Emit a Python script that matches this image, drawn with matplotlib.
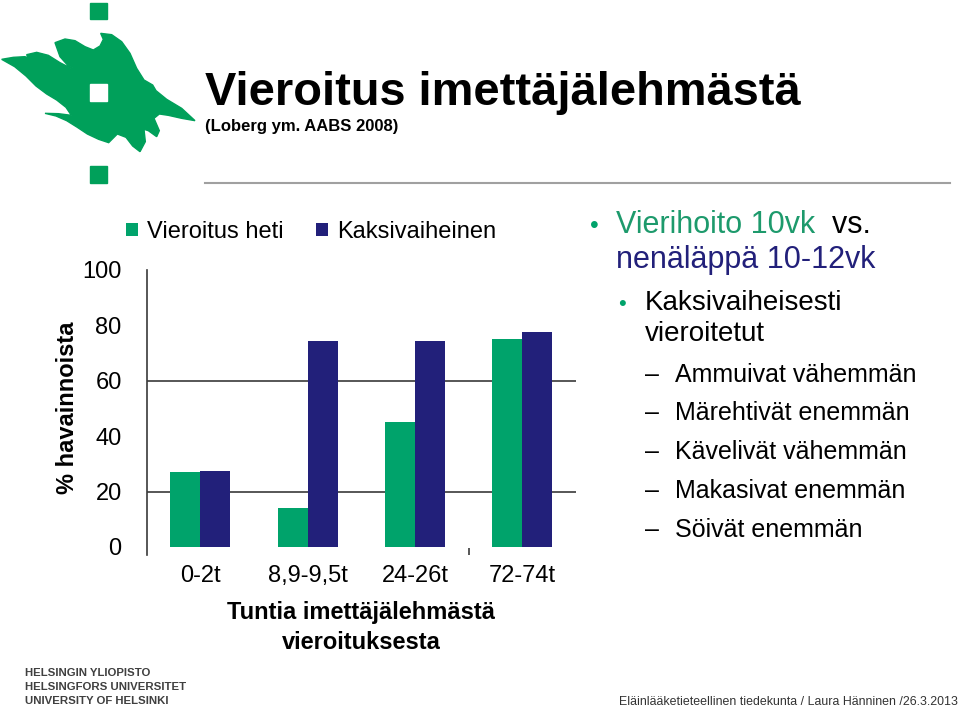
import numpy as np
import matplotlib
matplotlib.use('Agg')
import matplotlib.pyplot as plt
from matplotlib.patches import Polygon, Rectangle

plt.rcParams['font.family'] = ['Liberation Sans', 'DejaVu Sans']

# data
categories = ['0-2t', '8,9-9,5t', '24-26t', '72-74t']
vieroitus_heti = [27, 14, 45, 75]
kaksivaiheinen = [27.5, 74.5, 74.5, 77.5]
series_names = ['Vieroitus heti', 'Kaksivaiheinen']
yticks = [0, 20, 40, 60, 80, 100]
grid_at = [20, 60]

green = '#00A36B'
navy = '#22207A'
dark = '#3a3a3a'

fig = plt.figure(figsize=(9.6, 7.08), dpi=100)

# chart
ax = fig.add_axes([146.7/960, 1-555.3/708, 429.3/960, 285.3/708])
x = np.arange(len(categories))
w = 0.28
b1 = ax.bar(x - w/2, vieroitus_heti, w, color=green, zorder=3)
b2 = ax.bar(x + w/2, kaksivaiheinen, w, color=navy, zorder=3)
for g in grid_at:
    ax.axhline(g, color=dark, lw=1.2, zorder=1)
ax.set_xlim(-0.5, 3.5)
ax.set_ylim(-3, 100)
ax.set_yticks(yticks)
ax.set_yticklabels([str(t) for t in yticks], fontsize=17)
ax.set_xticks(x)
ax.set_xticklabels(categories, fontsize=17)
ax.set_xticks([2.5], minor=True)
ax.tick_params(axis='y', length=0, pad=18)
ax.tick_params(axis='x', which='major', length=0, pad=7)
ax.tick_params(axis='x', which='minor', length=5, direction='in', color=dark, width=1.2)
for s in ['top', 'right', 'bottom']:
    ax.spines[s].set_visible(False)
ax.spines['left'].set_color(dark)
ax.spines['left'].set_linewidth(1.2)
ax.set_facecolor('none')

ax.set_ylabel('% havainnoista', fontsize=17, fontweight='bold')
ax.yaxis.set_label_coords(-0.158, 0.516)
ax.set_xlabel('Tuntia imettäjälehmästä\nvieroituksesta', fontsize=17,
              fontweight='bold', linespacing=1.4)
ax.xaxis.set_label_coords(0.499, -0.16)

fig.legend([b1, b2], series_names, loc='center left',
           bbox_to_anchor=(126/960, 1-232/708), ncol=2, frameon=False,
           fontsize=17, handlelength=0.5, handleheight=0.5,
           handletextpad=0.38, columnspacing=1.4, borderpad=0, borderaxespad=0)

# slide decorations in pixel coords
ov = fig.add_axes([0, 0, 1, 1], zorder=-1)
ov.set_xlim(0, 960)
ov.set_ylim(708, 0)
ov.axis('off')

# logo
logo_green = '#00A05A'
ov.add_patch(Rectangle((90, 3), 17, 16, color=logo_green))
ov.add_patch(Rectangle((90, 166), 17, 17, color=logo_green))
flame = np.array([
    (5, 178), (40, 172), (75, 170), (98, 180), (112, 192), (98, 188), (85, 175),
    (80, 164), (110, 157), (145, 166), (180, 188), (215, 206), (240, 214),
    (205, 198), (180, 170), (165, 128), (195, 117), (225, 122), (255, 140),
    (280, 150), (300, 138), (310, 118), (302, 100), (335, 104), (365, 125),
    (390, 160), (410, 205), (432, 240), (458, 255), (468, 272), (500, 298),
    (545, 325), (585, 362), (545, 355), (505, 346), (478, 342), (462, 355),
    (478, 392), (470, 410), (445, 392), (432, 388), (436, 425), (420, 455),
    (398, 438), (378, 412), (352, 402), (326, 428), (296, 418), (262, 402),
    (232, 382), (200, 362), (168, 348), (135, 340), (175, 341), (214, 346),
    (198, 322), (170, 300), (140, 282), (108, 258), (78, 228), (44, 200)]) / 3.0
ov.add_patch(Polygon(flame, closed=True, color=logo_green))
ov.add_patch(Rectangle((90, 84), 17, 17, color='white'))

# title
ov.text(205, 105, 'Vieroitus imettäjälehmästä', fontsize=33.8, fontweight='bold',
        va='baseline', ha='left')
ov.text(205, 131, '(Loberg ym. AABS 2008)', fontsize=12, fontweight='bold',
        va='baseline', ha='left')
ov.plot([205, 950], [182.7, 182.7], color='#a0a0a0', lw=1.5)

# bullets
ov.text(590, 233, '•', fontsize=18, color=green, va='baseline', ha='left')
t1 = ov.text(616, 233, 'Vierihoito 10vk', fontsize=22, color='#1D9A6C',
             va='baseline', ha='left')
ov.annotate('  vs.', xy=(1, 0), xycoords=t1, fontsize=22, color='black',
            va='bottom', ha='left')
ov.text(616, 268, 'nenäläppä 10-12vk', fontsize=22, color=navy,
        va='baseline', ha='left')
ov.text(618, 310, '•', fontsize=16, color=green, va='baseline', ha='left')
ov.text(645, 310, 'Kaksivaiheisesti', fontsize=20, va='baseline', ha='left')
ov.text(645, 341, 'vieroitetut', fontsize=20, va='baseline', ha='left')
items = ['Ammuivat vähemmän', 'Märehtivät enemmän', 'Kävelivät vähemmän',
         'Makasivat enemmän', 'Söivät enemmän']
item_y = [381.7, 420, 459, 498, 536.7]
for txt, yy in zip(items, item_y):
    ov.text(645, yy, '–', fontsize=18, va='baseline', ha='left')
    ov.text(675, yy, txt, fontsize=18, va='baseline', ha='left')

# footer
for txt, yy in zip(['HELSINGIN YLIOPISTO', 'HELSINGFORS UNIVERSITET',
                    'UNIVERSITY OF HELSINKI'], [676, 690, 704]):
    ov.text(25, yy, txt, fontsize=8.2, fontweight='bold',
            color='#404040', va='baseline', ha='left')
ov.text(958, 705, 'Eläinlääketieteellinen tiedekunta / Laura Hänninen /26.3.2013',
        fontsize=8.9, color='#333333', va='baseline', ha='right')

fig.savefig('out.png', dpi=100)
